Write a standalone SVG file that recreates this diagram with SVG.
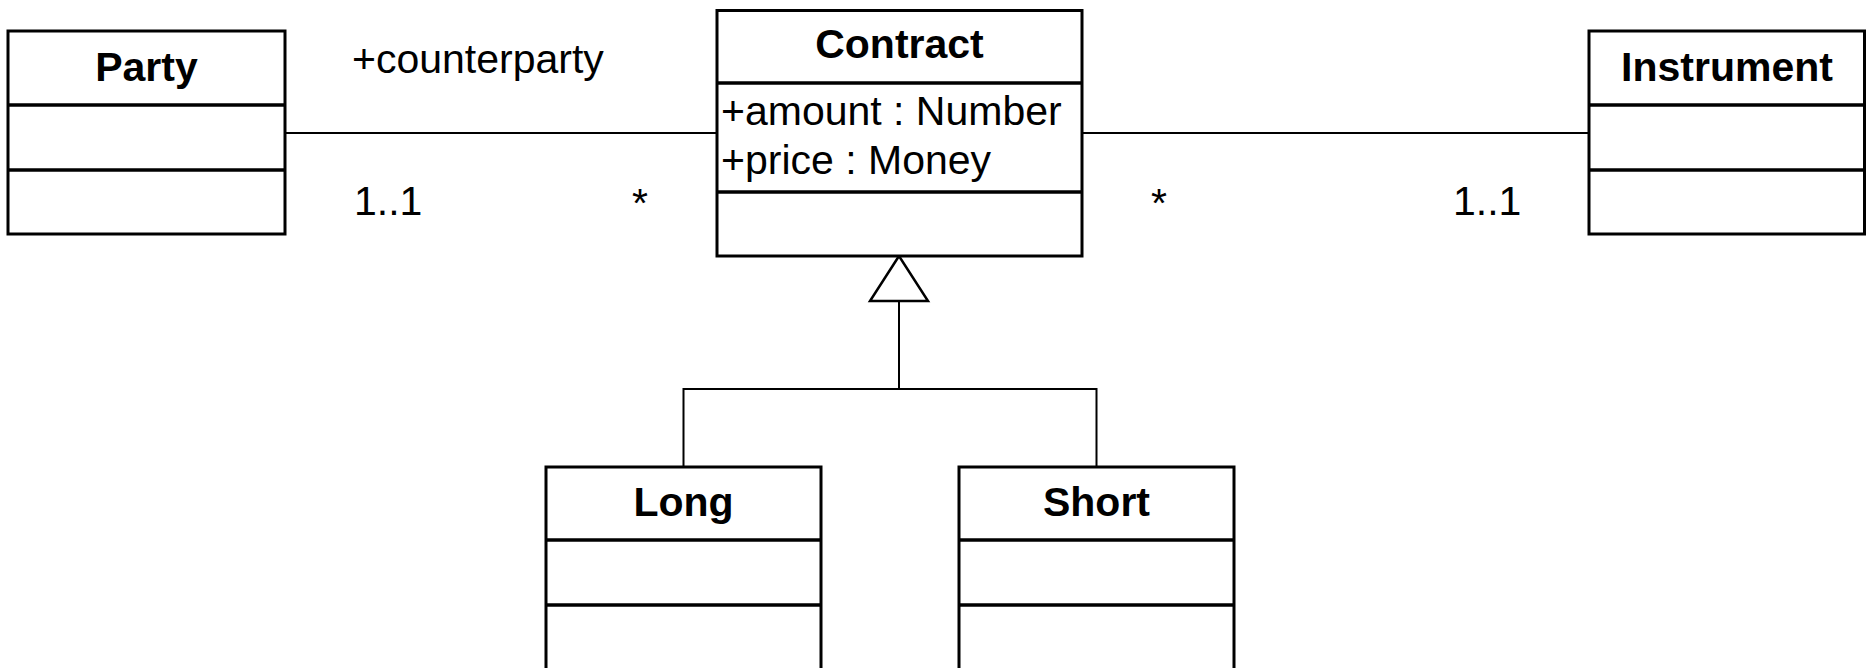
<svg xmlns="http://www.w3.org/2000/svg" width="1866" height="668" viewBox="0 0 1866 668">
<style>
.box{fill:#fff;stroke:#000;stroke-width:3}
.div{stroke:#000;stroke-width:3.5}
.con{fill:none;stroke:#000;stroke-width:2}
.title{font-family:"Liberation Sans",Arial,sans-serif;font-weight:bold;font-size:41px;text-anchor:middle}
.txt{font-family:"Liberation Sans",Arial,sans-serif;font-size:41px}
</style>
<rect width="1866" height="668" fill="#fff"/>
<g id="connectors">
<line class="con" x1="285" y1="133" x2="717" y2="133"/>
<line class="con" x1="1082" y1="133" x2="1589" y2="133"/>
<polyline class="con" points="683.5,467 683.5,389 1096.5,389 1096.5,467"/>
<line class="con" x1="899" y1="301" x2="899" y2="389"/>
<polygon points="899,256 870,301 928,301" fill="#fff" stroke="#000" stroke-width="2.5" stroke-linejoin="miter"/>
<text class="txt" x="352" y="73">+counterparty</text>
<text class="txt" x="354" y="215">1..1</text>
<text class="txt" x="632" y="217">*</text>
<text class="txt" x="1151" y="217">*</text>
<text class="txt" x="1453" y="215">1..1</text>
</g>
<g id="party">
<rect class="box" x="8" y="31" width="277" height="203"/>
<line class="div" x1="8" y1="105" x2="285" y2="105"/>
<line class="div" x1="8" y1="170" x2="285" y2="170"/>
<text class="title" x="146.5" y="81">Party</text>
</g>
<g id="contract">
<rect class="box" x="717" y="10.5" width="365" height="245.5"/>
<line class="div" x1="717" y1="83" x2="1082" y2="83"/>
<line class="div" x1="717" y1="192" x2="1082" y2="192"/>
<text class="title" x="899.5" y="58">Contract</text>
<text class="txt" x="721" y="125">+amount : Number</text>
<text class="txt" x="721" y="174">+price : Money</text>
</g>
<g id="instrument">
<rect class="box" x="1589" y="31" width="275.5" height="203"/>
<line class="div" x1="1589" y1="105" x2="1864.5" y2="105"/>
<line class="div" x1="1589" y1="170" x2="1864.5" y2="170"/>
<text class="title" x="1727" y="81">Instrument</text>
</g>
<g id="long">
<rect class="box" x="546" y="467" width="275" height="215"/>
<line class="div" x1="546" y1="540" x2="821" y2="540"/>
<line class="div" x1="546" y1="605" x2="821" y2="605"/>
<text class="title" x="683.5" y="516">Long</text>
</g>
<g id="short">
<rect class="box" x="959" y="467" width="275" height="215"/>
<line class="div" x1="959" y1="540" x2="1234" y2="540"/>
<line class="div" x1="959" y1="605" x2="1234" y2="605"/>
<text class="title" x="1096.5" y="516">Short</text>
</g>
</svg>
